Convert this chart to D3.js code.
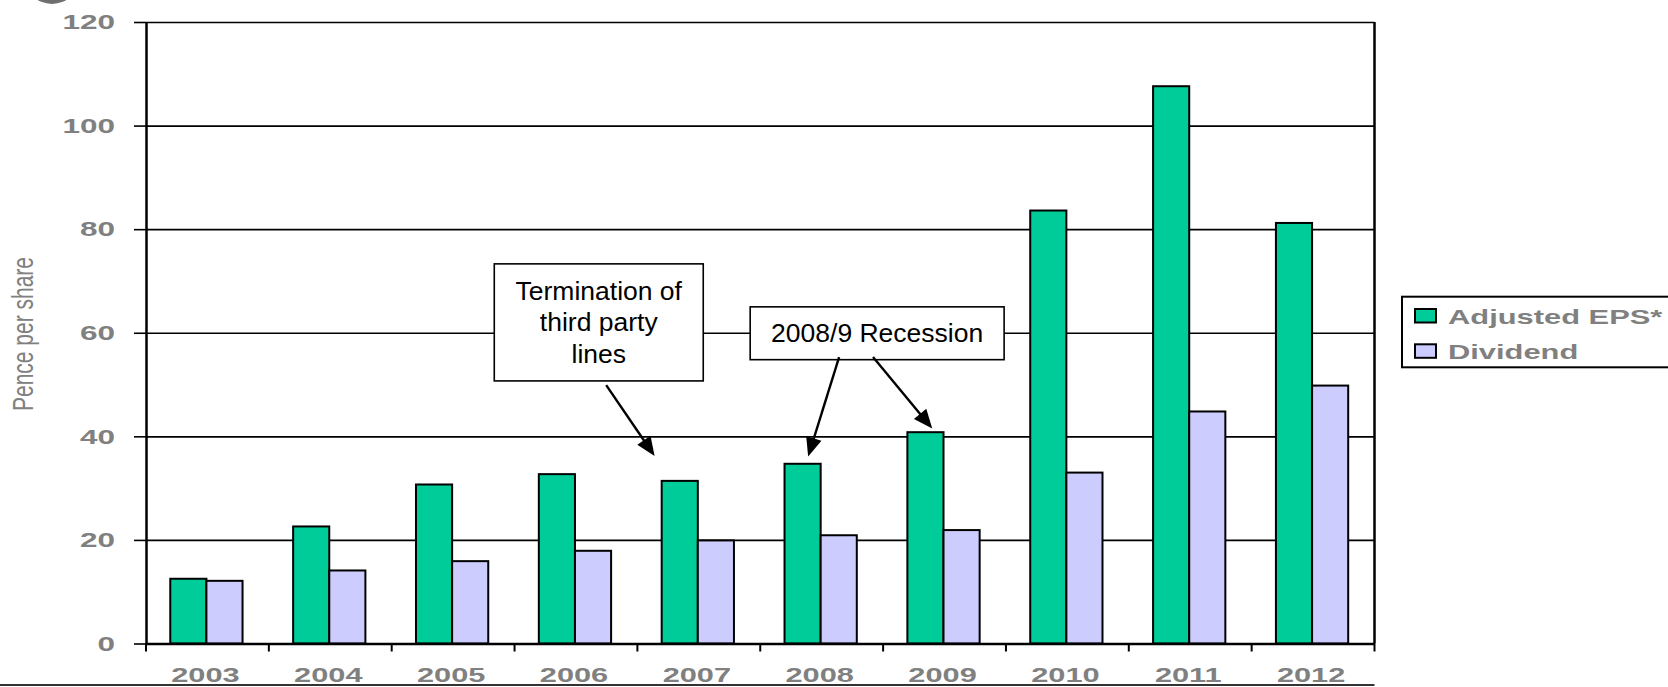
<!DOCTYPE html>
<html>
<head>
<meta charset="utf-8">
<script src="https://cdn.jsdelivr.net/npm/d3@7"></script>
<style>
  body { margin: 0; background: #fff; }
  svg { display: block; font-family: "Liberation Sans", Arial, sans-serif; }
</style>
</head>
<body>
<script>
// chart data
const years = ["2003", "2004", "2005", "2006", "2007", "2008", "2009", "2010", "2011", "2012"];
const seriesNames = ["Adjusted EPS*", "Dividend"];
const adjustedEps = [12.5, 22.6, 30.7, 32.7, 31.4, 34.7, 40.8, 83.6, 107.6, 81.2];
const dividend = [12.1, 14.1, 15.9, 17.9, 19.9, 20.9, 21.9, 33.0, 44.8, 49.8];
const yTicks = [0, 20, 40, 60, 80, 100, 120];
const yTitle = "Pence per share";

// annotations, placed in data units (year + fraction of a band, value)
const noteBoxes = [
    { lines: ["Termination of", "third party", "lines"], left: ["2006", -0.165], right: ["2007", 0.536], top: 73.3, bottom: 50.7 },
    { lines: ["2008/9 Recession"], left: ["2008", -0.082], right: ["2009", 0.985], top: 65.0, bottom: 54.8 }
];
const noteArrows = [
    { from: ["2007", -0.254, 49.9], to: ["2007", 0.14, 36.2] },
    { from: ["2008", 0.642, 55.3], to: ["2008", 0.39, 36.1] },
    { from: ["2008", 0.918, 55.3], to: ["2009", 0.40, 41.5] }
];

const width = 1668, height = 687;
const plot = { left: 146, right: 1374.5, top: 22, bottom: 643.5 };
const colors = { "Adjusted EPS*": "#00CC99", "Dividend": "#CCCCFF" };
const grey = "#808080";
const stretch = 1.5;   // the labels in the picture are drawn wide

const rows = years.map((yr, i) => ({ year: yr, values: [
    { key: seriesNames[0], value: adjustedEps[i] },
    { key: seriesNames[1], value: dividend[i] }
]}));

const svg = d3.select("body").append("svg")
    .attr("width", width)
    .attr("height", height);

const x0 = d3.scaleBand().domain(years).range([plot.left, plot.right]).padding(0);
const x1 = d3.scaleBand().domain(seriesNames).range([0, x0.bandwidth()])
    .paddingInner(0).paddingOuter(0.7).align(0.48);
const y = d3.scaleLinear().domain([0, 120]).range([plot.bottom, plot.top]);

const px = (yr, f) => x0(yr) + f * x0.step();

// grey blob in the top-left corner
svg.append("circle")
    .attr("cx", 52).attr("cy", -24).attr("r", 28)
    .attr("fill", "#6f6f6f");

// gridlines
const grid = svg.append("g")
    .attr("transform", `translate(${plot.left},0)`)
    .call(d3.axisLeft(y).tickValues(yTicks.slice(1)).tickSize(-(plot.right - plot.left)).tickFormat(""));
grid.select(".domain").remove();
grid.selectAll("line").attr("stroke", "#000").attr("stroke-width", 1.6);

// right border
svg.append("line")
    .attr("x1", plot.right).attr("x2", plot.right)
    .attr("y1", y(120)).attr("y2", y(0))
    .attr("stroke", "#000").attr("stroke-width", 2.5);

// annotation boxes
const boxG = svg.selectAll("g.note")
    .data(noteBoxes)
    .join("g")
    .attr("class", "note");

boxG.append("rect")
    .attr("x", d => px(...d.left))
    .attr("y", d => y(d.top))
    .attr("width", d => px(...d.right) - px(...d.left))
    .attr("height", d => y(d.bottom) - y(d.top))
    .attr("fill", "#fff")
    .attr("stroke", "#000")
    .attr("stroke-width", 1.6);

boxG.each(function(d) {
    let cx = (px(...d.left) + px(...d.right)) / 2;
    let cy = (y(d.top) + y(d.bottom)) / 2;
    let lh = 31.5;
    d3.select(this).selectAll("text")
        .data(d.lines)
        .join("text")
        .attr("x", cx)
        .attr("y", (t, i) => cy + (i - (d.lines.length - 1) / 2) * lh + 9)
        .attr("text-anchor", "middle")
        .attr("font-size", "26.5px")
        .attr("fill", "#000")
        .text(t => t);
});

// bars
const groups = svg.selectAll("g.year")
    .data(rows)
    .join("g")
    .attr("class", "year")
    .attr("transform", d => `translate(${x0(d.year)},0)`);

groups.selectAll("rect")
    .data(d => d.values)
    .join("rect")
    .attr("x", d => x1(d.key))
    .attr("y", d => y(d.value))
    .attr("width", x1.bandwidth())
    .attr("height", d => y(0) - y(d.value))
    .attr("fill", d => colors[d.key])
    .attr("stroke", "#000")
    .attr("stroke-width", 2);

// y axis
const yAxis = svg.append("g")
    .attr("transform", `translate(${plot.left},0)`)
    .call(d3.axisLeft(y).tickValues(yTicks).tickSize(12).tickSizeOuter(0));
yAxis.select(".domain").attr("stroke", "#000").attr("stroke-width", 2.5);
yAxis.selectAll(".tick line").attr("stroke", "#000").attr("stroke-width", 1.6);
yAxis.selectAll(".tick text")
    .attr("x", -31 / stretch)
    .attr("transform", `scale(${stretch},1)`)
    .attr("font-size", "21px")
    .attr("font-weight", "bold")
    .attr("fill", grey);

// x axis
const xAxis = svg.append("g")
    .attr("transform", `translate(0,${plot.bottom})`)
    .call(d3.axisBottom(x0).tickSize(0).tickSizeOuter(0));
xAxis.select(".domain").attr("stroke", "#000").attr("stroke-width", 2.5);
xAxis.selectAll(".tick text")
    .attr("x", -2 / stretch)
    .attr("y", 38.5)
    .attr("dy", 0)
    .attr("transform", `scale(${stretch},1)`)
    .attr("font-size", "20.5px")
    .attr("font-weight", "bold")
    .attr("fill", grey);
// keep the centre of each label on its band after stretching
xAxis.selectAll(".tick")
    .attr("transform", d => `translate(${x0(d) + x0.bandwidth() / 2},0)`);

// boundary ticks under the axis
svg.append("g")
    .selectAll("line")
    .data(years.map(d => x0(d)).concat([x0.range()[1]]))
    .join("line")
    .attr("x1", d => d).attr("x2", d => d)
    .attr("y1", plot.bottom).attr("y2", plot.bottom + 8)
    .attr("stroke", "#000")
    .attr("stroke-width", 2);

// rule along the bottom
svg.append("line")
    .attr("x1", 0).attr("x2", x0.range()[1])
    .attr("y1", 685).attr("y2", 685)
    .attr("stroke", "#333")
    .attr("stroke-width", 2);

// y title
svg.append("text")
    .attr("transform", `translate(33.4,334) scale(1.43,1) rotate(-90)`)
    .attr("text-anchor", "middle")
    .attr("font-size", "21px")
    .attr("fill", grey)
    .text(yTitle);

// arrows
const arrowG = svg.append("g");
noteArrows.forEach(a => {
    let xs = px(a.from[0], a.from[1]), ys = y(a.from[2]);
    let xt = px(a.to[0], a.to[1]), yt = y(a.to[2]);
    let dx = xt - xs, dy = yt - ys;
    let len = Math.sqrt(dx * dx + dy * dy);
    let ux = dx / len, uy = dy / len;
    let headL = 19, headW = 8;
    let bx = xt - ux * headL, by = yt - uy * headL;
    arrowG.append("line")
        .attr("x1", xs).attr("y1", ys)
        .attr("x2", bx + ux * 2).attr("y2", by + uy * 2)
        .attr("stroke", "#000")
        .attr("stroke-width", 2.4);
    arrowG.append("path")
        .attr("d", `M${xt},${yt}L${bx - uy * headW},${by + ux * headW}L${bx + uy * headW},${by - ux * headW}Z`)
        .attr("fill", "#000");
});

// legend
const legend = svg.append("g");
legend.append("rect")
    .attr("x", 1402).attr("y", 296.7)
    .attr("width", 268).attr("height", 70.6)
    .attr("fill", "#fff")
    .attr("stroke", "#000")
    .attr("stroke-width", 2);

const items = legend.selectAll("g.item")
    .data(seriesNames)
    .join("g")
    .attr("class", "item")
    .attr("transform", (d, i) => `translate(1415,${309 + i * 35.3})`);

items.append("rect")
    .attr("width", 21).attr("height", 13.5)
    .attr("fill", d => colors[d])
    .attr("stroke", "#000")
    .attr("stroke-width", 2);

items.append("text")
    .attr("transform", `translate(33,14.5) scale(${stretch - 0.03},1)`)
    .attr("font-size", "21px")
    .attr("font-weight", "bold")
    .attr("fill", grey)
    .text(d => d);
</script>
</body>
</html>
